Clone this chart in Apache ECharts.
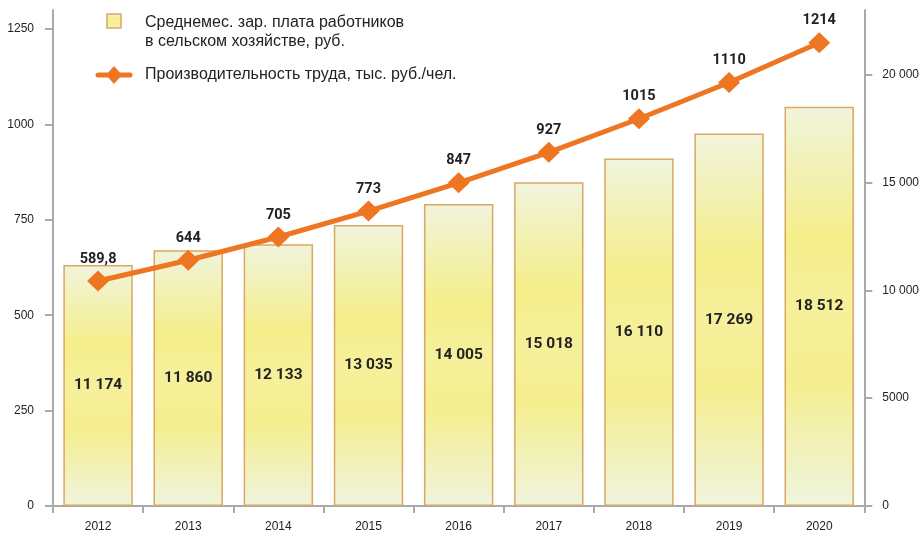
<!DOCTYPE html>
<html><head><meta charset="utf-8">
<script src="https://cdn.jsdelivr.net/npm/echarts@6/dist/echarts.min.js"></script>
<style>html,body{margin:0;padding:0;background:#fff}#c{width:922px;height:538px}</style>
</head><body><div id="c"></div>
<script>
const years = ['2012','2013','2014','2015','2016','2017','2018','2019','2020'];
const wages = [11174, 11860, 12133, 13035, 14005, 15018, 16110, 17269, 18512];
const productivity = [589.8, 644, 705, 773, 847, 927, 1015, 1110, 1214];
const leftTicks = [0, 250, 500, 750, 1000, 1250];
const rightTicks = [0, 5000, 10000, 15000, 20000];
const legendWage = 'Среднемес. зар. плата работников\nв сельском хозяйстве, руб.';
const legendProd = 'Производительность труда, тыс. руб./чел.';

const ORANGE = '#ee7623';
const BORDER = '#d9a862';
const AXIS = '#aaaaaa';
const FONT = '"Liberation Sans", Arial, sans-serif';
const NARROW = 'Roboto, "Liberation Sans", sans-serif';

const barGrad = () => new echarts.graphic.LinearGradient(0, 0, 0, 1, [
  {offset: 0, color: '#f0f4dc'},
  {offset: 0.33, color: '#f5ee8a'},
  {offset: 0.5, color: '#f6f09c'},
  {offset: 0.68, color: '#f5ee8e'},
  {offset: 1, color: '#eff4de'}
]);

const fmtSpace = v => String(v).replace(/\B(?=(\d{3})+(?!\d))/g, ' ');

const chart = echarts.init(document.getElementById('c'), null, {renderer: 'canvas'});
chart.setOption({
  animation: false,
  grid: {left: 53, right: 56, top: 10, bottom: 32, containLabel: false},
  xAxis: {
    type: 'category', data: years, boundaryGap: true,
    axisLine: {lineStyle: {color: AXIS, width: 2}},
    axisTick: {show: true, length: 7, lineStyle: {color: AXIS, width: 2}},
    axisLabel: {color: '#222', fontFamily: FONT, fontSize: 12, margin: 15}
  },
  yAxis: [
    {
      type: 'value', min: 0, max: 1300, position: 'left',
      splitLine: {show: false},
      axisLine: {show: true, lineStyle: {color: AXIS, width: 2}},
      axisTick: {show: true, length: 8, customValues: leftTicks, lineStyle: {color: AXIS, width: 2}},
      axisLabel: {customValues: leftTicks, color: '#222', fontFamily: FONT, fontSize: 12, margin: 19,
        formatter: v => String(v)}
    },
    {
      type: 'value', min: 0, max: 23000, position: 'right',
      splitLine: {show: false},
      axisLine: {show: true, lineStyle: {color: AXIS, width: 2}},
      axisTick: {show: true, length: 8, customValues: rightTicks, lineStyle: {color: AXIS, width: 2}},
      axisLabel: {customValues: rightTicks, color: '#222', fontFamily: FONT, fontSize: 12, margin: 18,
        formatter: v => v >= 10000 ? fmtSpace(v) : String(v)}
    }
  ],
  series: [
    {
      name: 'wages', type: 'bar', yAxisIndex: 1, data: wages, barWidth: '77%',
      itemStyle: {color: barGrad(), borderColor: BORDER, borderWidth: 1.5},
      label: {show: true, position: 'inside', color: '#222', fontFamily: NARROW, fontWeight: 'bold', fontSize: 15.5,
        formatter: p => fmtSpace(p.value)},
      z: 2
    },
    {
      name: 'prod', type: 'line', yAxisIndex: 0, data: productivity,
      symbol: 'diamond', symbolSize: [22, 21],
      lineStyle: {color: ORANGE, width: 5},
      itemStyle: {color: ORANGE},
      label: {show: true, position: 'top', distance: 4, color: '#222', fontFamily: NARROW, fontWeight: 'bold', fontSize: 14.5,
        formatter: p => String(p.value).replace('.', ',')},
      z: 5
    }
  ],
  graphic: [
    {type: 'rect', shape: {x: 107, y: 14, width: 14, height: 14},
      style: {fill: barGrad(), stroke: BORDER, lineWidth: 1.5}},
    {type: 'text', x: 145, y: 13,
      style: {text: legendWage, fill: '#222', font: '16px ' + FONT, lineHeight: 19}},
    {type: 'line', shape: {x1: 98, y1: 75, x2: 130, y2: 75},
      style: {stroke: ORANGE, lineWidth: 5, lineCap: 'round'}},
    {type: 'polygon', shape: {points: [[114, 66], [122, 75], [114, 84], [106, 75]]},
      style: {fill: ORANGE}},
    {type: 'text', x: 145, y: 75,
      style: {text: legendProd, fill: '#222', font: '16px ' + FONT, verticalAlign: 'middle'}}
  ]
});
</script>
</body></html>
